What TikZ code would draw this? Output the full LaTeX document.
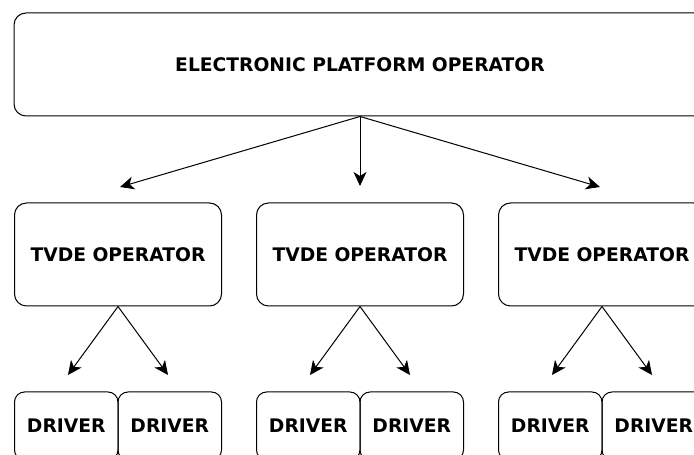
\documentclass[tikz,border=0pt]{standalone}
\usepackage{fontspec}
\setmainfont{DejaVu Sans}
\usepackage{tikz}
\usetikzlibrary{arrows.meta}

\begin{document}
\begin{tikzpicture}[x=1pt, y=1pt,
  caja/.style={draw, line width=1pt, rounded corners=12pt, align=center,
    font=\bfseries\fontsize{18.7}{22}\selectfont},
  flecha/.style={line width=1pt, -{Stealth[length=14pt, width=13pt, inset=4pt]}}]
% Marco de la figura
\useasboundingbox (0,0) rectangle (694,455);
\clip (0,0) rectangle (694,455);

% Plataforma electronica
\node[caja, minimum width=692pt, minimum height=103pt] (plat) at (360,390.5)
  {ELECTRONIC PLATFORM OPERATOR};

% Operadores TVDE
\node[caja, minimum width=207pt, minimum height=103pt] (tvdeA) at (118,200.5) {TVDE OPERATOR};
\node[caja, minimum width=207pt, minimum height=103pt] (tvdeB) at (360,200.5) {TVDE OPERATOR};
\node[caja, minimum width=207pt, minimum height=103pt] (tvdeC) at (602,200.5) {TVDE OPERATOR};

% Conductores
\node[caja, rounded corners=10pt, minimum width=103.5pt, minimum height=68pt] (drvA1) at (66.25,29) {DRIVER};
\node[caja, rounded corners=10pt, minimum width=103.5pt, minimum height=68pt] (drvA2) at (169.75,29) {DRIVER};
\node[caja, rounded corners=10pt, minimum width=103.5pt, minimum height=68pt] (drvB1) at (308.25,29) {DRIVER};
\node[caja, rounded corners=10pt, minimum width=103.5pt, minimum height=68pt] (drvB2) at (411.75,29) {DRIVER};
\node[caja, rounded corners=10pt, minimum width=103.5pt, minimum height=68pt] (drvC1) at (550.25,29) {DRIVER};
\node[caja, rounded corners=10pt, minimum width=103.5pt, minimum height=68pt] (drvC2) at (653.75,29) {DRIVER};

% Puntas de flecha
\coordinate (pA) at (120,268);
\coordinate (pB) at (360,269);
\coordinate (pC) at (600,268);
\coordinate (pA1) at (68,80);
\coordinate (pA2) at (168,80);
\coordinate (pB1) at (310,80);
\coordinate (pB2) at (410,80);
\coordinate (pC1) at (552,80);
\coordinate (pC2) at (652,80);

% Flechas
\draw[flecha] (plat.south) -- (pA);
\draw[flecha] (plat.south) -- (pB);
\draw[flecha] (plat.south) -- (pC);
\draw[flecha] (tvdeA.south) -- (pA1);
\draw[flecha] (tvdeA.south) -- (pA2);
\draw[flecha] (tvdeB.south) -- (pB1);
\draw[flecha] (tvdeB.south) -- (pB2);
\draw[flecha] (tvdeC.south) -- (pC1);
\draw[flecha] (tvdeC.south) -- (pC2);

\end{tikzpicture}
\end{document}
